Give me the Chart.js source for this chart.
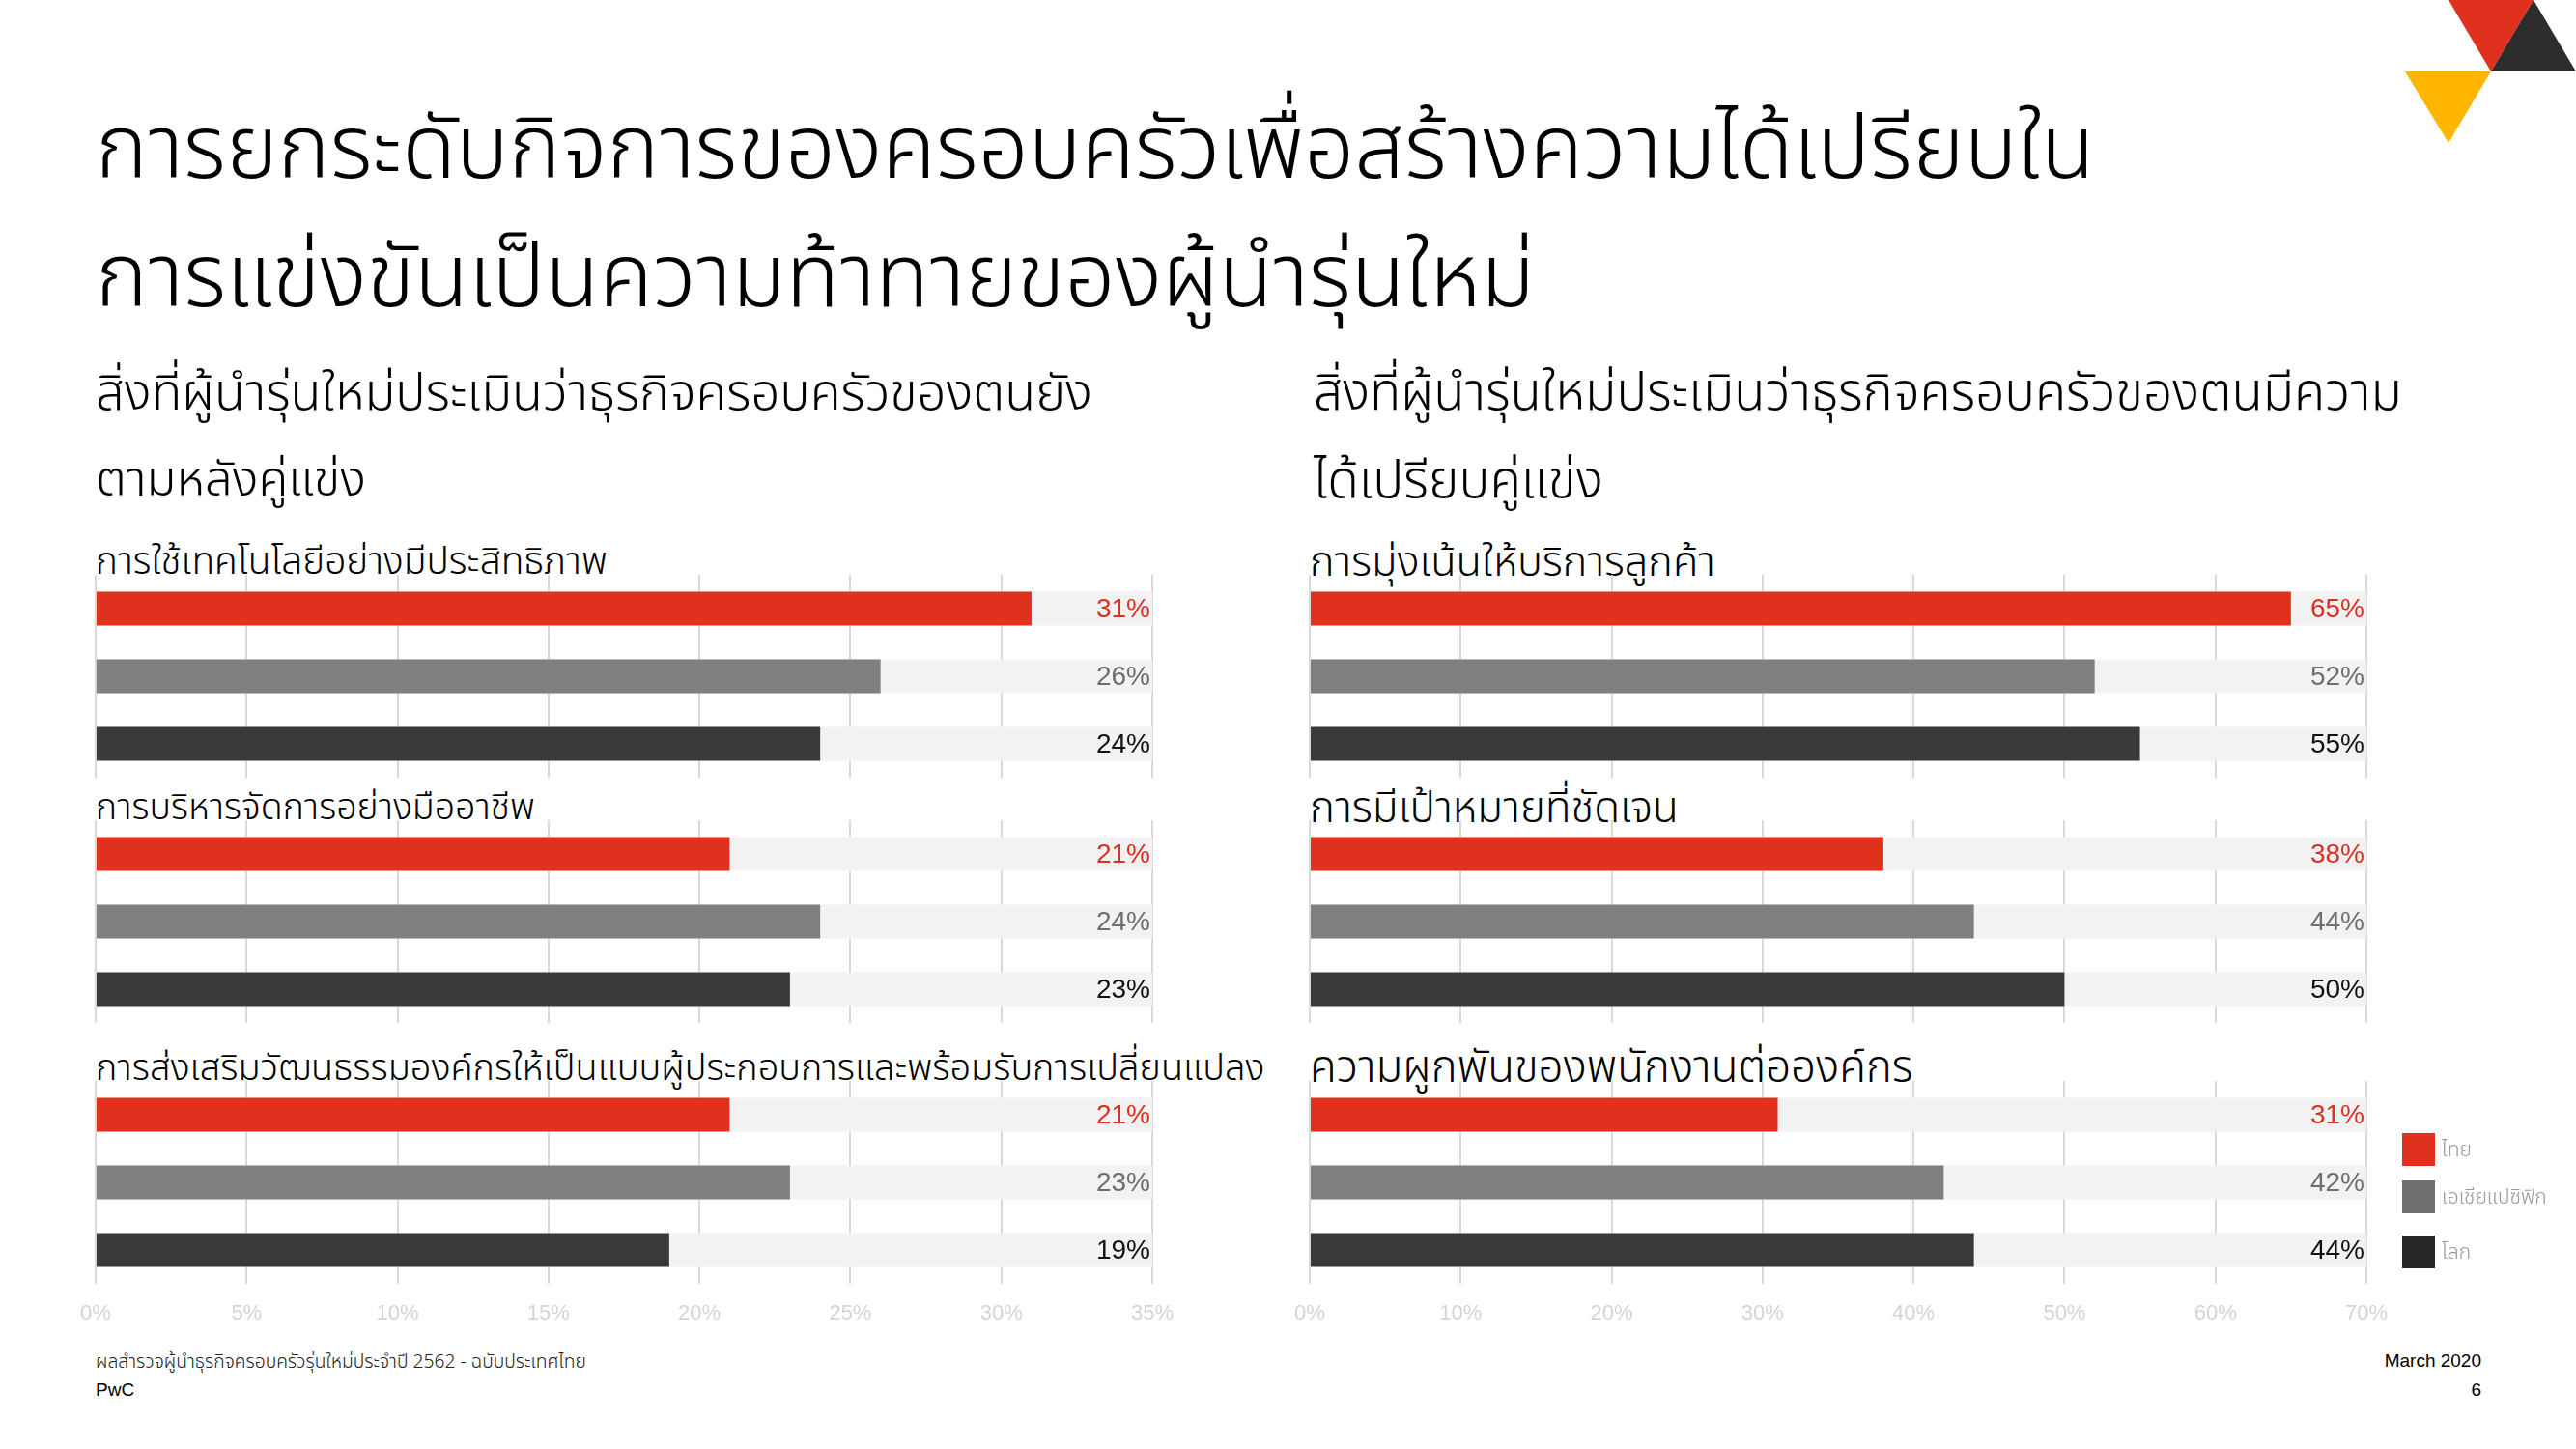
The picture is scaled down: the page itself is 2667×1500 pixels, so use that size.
<!DOCTYPE html>
<html lang="th">
<head>
<meta charset="utf-8">
<title>การยกระดับกิจการของครอบครัว</title>
<script src="https://cdn.jsdelivr.net/npm/chart.js@4.4.1/dist/chart.umd.min.js"></script>
<style>
  html, body { margin: 0; padding: 0; background: #fff; }
  body {
    width: 2667px; height: 1500px; position: relative; overflow: hidden;
    font-family: 'Noto Sans Thai', 'Noto Sans Thai Looped', 'Loma', 'Garuda', 'Noto Sans', sans-serif;
    font-weight: 300; color: #000;
  }
  .txt { position: absolute; white-space: nowrap; line-height: 1.3; }
  .chart { position: absolute; }
  .sq { position: absolute; width: 34px; height: 34px; }
  .lg { position: absolute; font-size: 21px; color: #999; white-space: nowrap; line-height: 1.3; }
  .latin { font-family: 'Liberation Sans Narrow', 'Liberation Sans', Arial, sans-serif; font-weight: 400; }
</style>
</head>
<body>

<svg style="position:absolute;left:2480px;top:0" width="187" height="160" viewBox="2480 0 187 160">
  <polygon points="2535,0 2623,0 2579,74" fill="#e0301e"/>
  <polygon points="2623,0 2667,74 2579,74" fill="#2d2d2d"/>
  <polygon points="2490,74 2579,74 2535,148" fill="#ffb600"/>
</svg>

<div class="txt" data-x="99" data-cy="156" data-w="2070" style="font-size:80px">การยกระดับกิจการของครอบครัวเพื่อสร้างความได้เปรียบใน</div>
<div class="txt" data-x="99" data-cy="289" data-w="1490" style="font-size:80px">การแข่งขันเป็นความท้าทายของผู้นำรุ่นใหม่</div>

<div class="txt" data-x="99" data-cy="408" data-w="1032" style="font-size:50px">สิ่งที่ผู้นำรุ่นใหม่ประเมินว่าธุรกิจครอบครัวของตนยัง</div>
<div class="txt" data-x="99" data-cy="498" data-w="280" style="font-size:50px">ตามหลังคู่แข่ง</div>
<div class="txt" data-x="1360" data-cy="408" data-w="1127" style="font-size:50px">สิ่งที่ผู้นำรุ่นใหม่ประเมินว่าธุรกิจครอบครัวของตนมีความ</div>
<div class="txt" data-x="1360" data-cy="498" data-w="300" style="font-size:50px">ได้เปรียบคู่แข่ง</div>

<div id="labels"></div>

<div class="chart" id="wrapL0"><canvas id="cL0" width="1174" height="270"></canvas></div>
<div class="chart" id="wrapL1"><canvas id="cL1" width="1174" height="270"></canvas></div>
<div class="chart" id="wrapL2"><canvas id="cL2" width="1174" height="270"></canvas></div>
<div class="chart" id="wrapR0"><canvas id="cR0" width="1174" height="270"></canvas></div>
<div class="chart" id="wrapR1"><canvas id="cR1" width="1174" height="270"></canvas></div>
<div class="chart" id="wrapR2"><canvas id="cR2" width="1174" height="270"></canvas></div>

<div class="sq" style="left:2487px;top:1173px;background:#e0301e"></div>
<div class="sq" style="left:2487px;top:1222px;background:#6f6f6f"></div>
<div class="sq" style="left:2487px;top:1279px;background:#262626"></div>
<div id="legendText"></div>

<div class="txt" data-x="99" data-cy="1410" data-w="508" style="font-size:20px;color:#222">ผลสำรวจผู้นำธุรกิจครอบครัวรุ่นใหม่ประจำปี 2562 - ฉบับประเทศไทย</div>
<div class="txt latin" style="left:99px;top:1427px;font-size:19px">PwC</div>
<div class="txt latin" style="right:98px;top:1397px;font-size:19px">March 2020</div>
<div class="txt latin" style="right:98px;top:1427px;font-size:19px">6</div>

<script>
'use strict';

// ข้อมูล
const series = ['ไทย', 'เอเชียแปซิฟิก', 'โลก'];

const leftGroups = [
  'การใช้เทคโนโลยีอย่างมีประสิทธิภาพ',
  'การบริหารจัดการอย่างมืออาชีพ',
  'การส่งเสริมวัฒนธรรมองค์กรให้เป็นแบบผู้ประกอบการและพร้อมรับการเปลี่ยนแปลง',
];
const leftThai = [31, 21, 21];
const leftAsia = [26, 24, 23];
const leftGlobal = [24, 23, 19];
const leftMax = 35;
const leftStep = 5;

const rightGroups = [
  'การมุ่งเน้นให้บริการลูกค้า',
  'การมีเป้าหมายที่ชัดเจน',
  'ความผูกพันของพนักงานต่อองค์กร',
];
const rightThai = [65, 38, 31];
const rightAsia = [52, 44, 42];
const rightGlobal = [55, 50, 44];
const rightMax = 70;
const rightStep = 10;

// สี
const barColors = ['#e0301e', '#7f7f7f', '#3a3a3a'];
const valueColors = ['#dc2f21', '#6e6e6e', '#111111'];
const trackColor = '#f2f2f2';

// ตำแหน่งของพื้นที่กราฟแต่ละกลุ่ม
const groupTops = [595, 849, 1119];
const labelCenters = [583, 837, 1106];
const leftX = 99;
const rightX = 1356;
const labelWidthsL = [530, 455, 1211];
const labelWidthsR = [420, 382, 625];

const valueLabels = {
  id: 'valueLabels',
  afterDatasetsDraw(chart) {
    const { ctx, chartArea } = chart;
    const meta = chart.getDatasetMeta(0);
    ctx.save();
    ctx.font = '400 28px "Liberation Sans Narrow", "Liberation Sans", Arial, sans-serif';
    ctx.textAlign = 'right';
    ctx.textBaseline = 'middle';
    meta.data.forEach((bar, i) => {
      ctx.fillStyle = valueColors[i];
      ctx.fillText(chart.data.datasets[0].data[i] + '%', chartArea.right - 2, bar.y + 1);
    });
    ctx.restore();
  },
};

function makeChart(id, values, max, step, showTicks, areaLeft, areaTop) {
  const canvas = document.getElementById('c' + id);
  const wrap = document.getElementById('wrap' + id);
  const chart = new Chart(canvas, {
    type: 'bar',
    data: {
      labels: series,
      datasets: [
        {
          data: values,
          backgroundColor: barColors,
          grouped: false,
          order: 0,
          barPercentage: 0.5,
          categoryPercentage: 1,
        },
        {
          data: series.map(() => max),
          backgroundColor: trackColor,
          grouped: false,
          order: 1,
          barPercentage: 0.5,
          categoryPercentage: 1,
        },
      ],
    },
    options: {
      indexAxis: 'y',
      responsive: false,
      animation: false,
      layout: { padding: { left: 40, right: 40, top: 10, bottom: 0 } },
      plugins: { legend: { display: false }, tooltip: { enabled: false } },
      scales: {
        x: {
          min: 0,
          max: max,
          ticks: {
            stepSize: step,
            padding: 18,
            color: showTicks ? '#d4d4d4' : 'rgba(0,0,0,0)',
            font: { family: '"Liberation Sans Narrow", "Liberation Sans", Arial, sans-serif', size: 22 },
            callback: v => v + '%',
          },
          grid: { color: '#d9d9d9', lineWidth: 2, drawTicks: false },
          border: { display: false },
          afterFit: scale => { scale.height = 50; },
        },
        y: { display: false },
      },
    },
    plugins: [valueLabels],
  });
  const area = chart.chartArea;
  wrap.style.left = (areaLeft - area.left) + 'px';
  wrap.style.top = (areaTop - area.top) + 'px';
  return chart;
}

const leftSets = [leftThai, leftAsia, leftGlobal];
const rightSets = [rightThai, rightAsia, rightGlobal];
for (let g = 0; g < 3; g++) {
  const lv = leftSets.map(s => s[g]);
  const rv = rightSets.map(s => s[g]);
  makeChart('L' + g, lv, leftMax, leftStep, g === 2, leftX, groupTops[g]);
  makeChart('R' + g, rv, rightMax, rightStep, g === 2, rightX, groupTops[g]);
}

// ชื่อกลุ่ม
const labelBox = document.getElementById('labels');
leftGroups.forEach((t, g) => {
  const el = document.createElement('div');
  el.className = 'txt';
  el.textContent = t;
  el.style.fontSize = '36px';
  el.dataset.x = leftX;
  el.dataset.cy = labelCenters[g];
  el.dataset.w = labelWidthsL[g];
  labelBox.appendChild(el);
});
rightGroups.forEach((t, g) => {
  const el = document.createElement('div');
  el.className = 'txt';
  el.textContent = t;
  el.style.fontSize = '36px';
  el.dataset.x = rightX;
  el.dataset.cy = labelCenters[g];
  el.dataset.w = labelWidthsR[g];
  labelBox.appendChild(el);
});

// คำอธิบายสัญลักษณ์
const legendBox = document.getElementById('legendText');
const legendCenters = [1190, 1239, 1296];
series.forEach((s, i) => {
  const el = document.createElement('div');
  el.className = 'lg';
  el.textContent = s;
  legendBox.appendChild(el);
  el.style.left = '2528px';
  el.style.top = (legendCenters[i] - el.offsetHeight / 2) + 'px';
});

// ปรับขนาดตัวอักษรให้กว้างเท่าต้นฉบับ
document.querySelectorAll('.txt[data-w]').forEach(el => {
  const fs = parseFloat(getComputedStyle(el).fontSize);
  const w = el.getBoundingClientRect().width;
  el.style.fontSize = (fs * el.dataset.w / w) + 'px';
  el.style.left = el.dataset.x + 'px';
  el.style.top = (el.dataset.cy - el.offsetHeight / 2) + 'px';
});
</script>
</body>
</html>
